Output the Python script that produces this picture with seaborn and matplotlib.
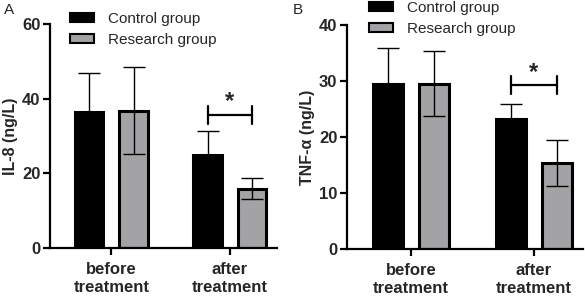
import numpy as np
import pandas as pd
import seaborn as sns
import matplotlib
matplotlib.use("Agg")
import matplotlib.pyplot as plt
from matplotlib.patches import Patch

categories = ["before\ntreatment", "after\ntreatment"]
groups = ["Control group", "Research group"]

il8_control = [36.5, 25.0]
il8_research = [36.8, 15.9]
il8_control_sd = [10.5, 6.4]
il8_research_sd = [11.7, 2.8]

tnf_control = [29.5, 23.2]
tnf_research = [29.5, 15.4]
tnf_control_sd = [6.4, 2.7]
tnf_research_sd = [5.8, 4.1]

# significance bracket height and star height for the "after" pair
il8_sig = (35.6, 39.3)
tnf_sig = (29.3, 31.6)

sns.set_theme(style="ticks")
plt.rcParams["font.family"] = ["Liberation Sans", "DejaVu Sans"]

colors = {"Control group": "#000000", "Research group": "#a3a3a5"}


def make_df(ctrl, res, ctrl_sd, res_sd):
    rows = []
    for i, c in enumerate(categories):
        rows.append({"cat": c, "group": groups[0], "val": ctrl[i], "sd": ctrl_sd[i]})
        rows.append({"cat": c, "group": groups[1], "val": res[i], "sd": res_sd[i]})
    return pd.DataFrame(rows)


def draw_panel(ax, df, ylim, yticks, ylabel, sig, letter, letter_xy, leg_xy, fig):
    sns.barplot(data=df, x="cat", y="val", hue="group", order=categories,
                hue_order=groups, palette=colors, errorbar=None, width=0.75,
                gap=0.36, ax=ax, legend=False, linewidth=2.2, edgecolor="black",
                saturation=1)
    # barplot draws patches hue by hue, category by category
    ordered = [(g, c) for g in groups for c in categories]
    lookup = df.set_index(["group", "cat"])
    centers = {}
    for bar, key in zip(ax.patches, ordered):
        r = lookup.loc[key]
        x = bar.get_x() + bar.get_width() / 2
        centers[key] = x
        ax.errorbar(x, r["val"], yerr=r["sd"], fmt="none", ecolor="black",
                    elinewidth=1.0, capsize=8, capthick=1.0,
                    zorder=1 if key[0] == groups[0] else 3)
    # significance bracket
    x1 = centers[(groups[0], categories[1])]
    x2 = centers[(groups[1], categories[1])]
    yb, ys = sig
    h = (ylim[1] - ylim[0]) * 0.04
    ax.plot([x1, x2], [yb, yb], color="black", lw=1.6)
    ax.plot([x1, x1], [yb - h, yb + h], color="black", lw=1.6)
    ax.plot([x2, x2], [yb - h, yb + h], color="black", lw=1.6)
    ax.text((x1 + x2) / 2, ys, "*", ha="center", va="center", fontsize=17, fontweight="bold")

    ax.set_ylim(*ylim)
    ax.set_yticks(yticks)
    ax.set_xlim(-0.52, 1.40)
    ax.set_xlabel("")
    ax.set_ylabel(ylabel, fontsize=11.5, fontweight="bold", labelpad=3)
    ax.tick_params(axis="both", width=1.6, length=5, labelsize=12, color="black")
    ax.tick_params(axis="y", pad=2)
    ax.tick_params(axis="x", pad=5)
    for lab in ax.get_xticklabels() + ax.get_yticklabels():
        lab.set_fontweight("bold")
    for lab in ax.get_xticklabels():
        lab.set_linespacing(1.25)
    sns.despine(ax=ax)
    for s in ["left", "bottom"]:
        ax.spines[s].set_linewidth(1.6)
        ax.spines[s].set_color("black")
    fig.text(letter_xy[0], letter_xy[1], letter, fontsize=11, va="center", ha="center")

    handles = [Patch(facecolor=colors[g], edgecolor="black", linewidth=1.5) for g in groups]
    ax.legend(handles, groups, loc="upper left", bbox_to_anchor=leg_xy,
              bbox_transform=fig.transFigure, frameon=False, fontsize=11,
              handlelength=1.6, handleheight=0.55, handletextpad=0.9, labelspacing=0.45,
              borderaxespad=0, borderpad=0)


fig = plt.figure(figsize=(5.85, 3.0), dpi=100)
ax1 = fig.add_axes([50 / 585, 52 / 300, 227 / 585, 224 / 300])
ax2 = fig.add_axes([347 / 585, 51 / 300, 236 / 585, 224 / 300])

draw_panel(ax1, make_df(il8_control, il8_research, il8_control_sd, il8_research_sd),
           (0, 60), [0, 20, 40, 60], "IL-8 (ng/L)", il8_sig, "A",
           (9 / 585, 1 - 10 / 300), (70 / 585, 1 - 12 / 300), fig)
draw_panel(ax2, make_df(tnf_control, tnf_research, tnf_control_sd, tnf_research_sd),
           (0, 40), [0, 10, 20, 30, 40], "TNF-α (ng/L)", tnf_sig, "B",
           (298 / 585, 1 - 10 / 300), (369 / 585, 1 - 1 / 300), fig)

fig.savefig("out.png", dpi=100)
